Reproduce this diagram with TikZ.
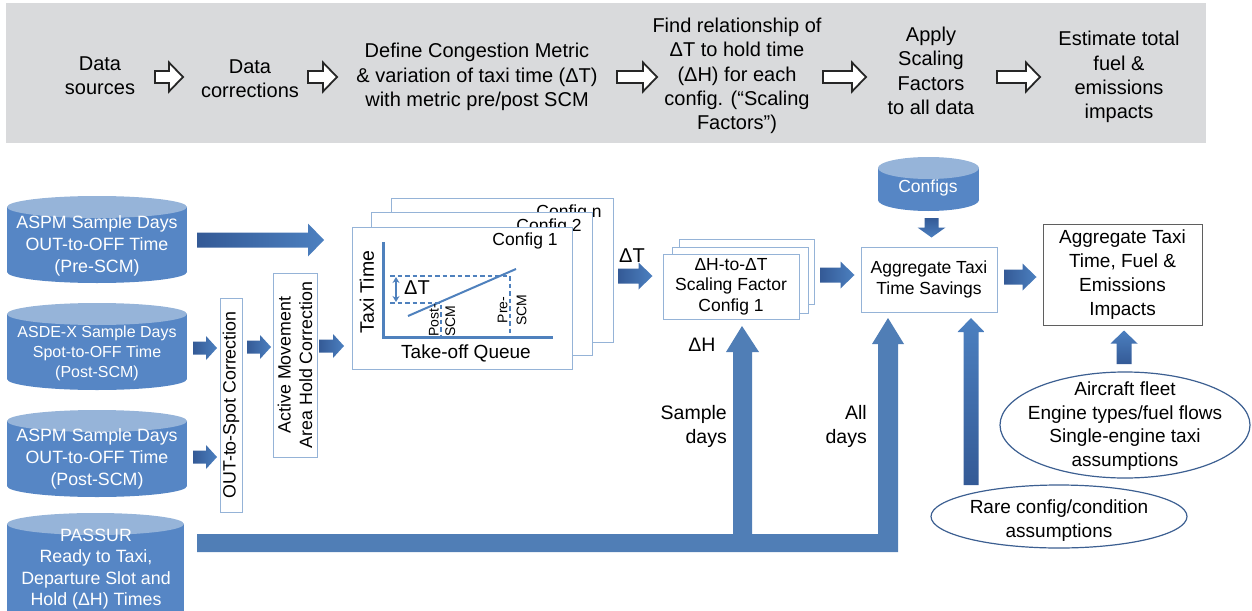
\documentclass[tikz,border=0pt]{standalone}
\usepackage{fontspec}
\setmainfont{Liberation Sans}
\usetikzlibrary{calc,shapes.geometric,arrows.meta}

\definecolor{bannergray}{RGB}{217,218,220}
\definecolor{dbbody}{RGB}{86,134,197}
\definecolor{dbtop}{RGB}{150,180,217}
\definecolor{flowdark}{RGB}{52,90,150}
\definecolor{flowlight}{RGB}{76,128,192}
\definecolor{pipe}{RGB}{80,126,182}
\definecolor{boxedge}{RGB}{149,179,215}
\definecolor{chartblue}{RGB}{79,129,189}
\definecolor{ovaledge}{RGB}{60,95,145}
\definecolor{finedge}{RGB}{95,95,95}

\newcommand\fs[2]{\fontsize{#1}{#2}\selectfont}

% database cylinder: name, left x, right x, top y, bottom y, cap radius
\newcommand\dbcyl[6]{%
  \fill[dbbody] (#2,#4+#6) rectangle (#3,#5-#6);
  \fill[dbbody] ({(#2+#3)/2},#5-#6) ellipse [x radius={(#3-#2)/2*1pt}, y radius=#6pt];
  \fill[dbtop] ({(#2+#3)/2},#4+#6) ellipse [x radius={(#3-#2)/2*1pt}, y radius=#6pt];
  \coordinate (#1) at ({(#2+#3)/2},{(#4+#5)/2});}

% shaded block arrows: from, to, shaft half-width, head half-width, head length
\newcommand\rarrow[5]{%
  \path[left color=flowdark,right color=flowlight] let \p1=#1, \p2=#2 in
    (\x1,\y1+#3) -- (\x2-#5,\y1+#3) -- (\x2-#5,\y1+#4) -- (\x2,\y1)
    -- (\x2-#5,\y1-#4) -- (\x2-#5,\y1-#3) -- (\x1,\y1-#3) -- cycle;}
\newcommand\uarrow[5]{%
  \path[bottom color=flowdark,top color=flowlight] let \p1=#1, \p2=#2 in
    (\x1-#3,\y1) -- (\x1-#3,\y2-#5) -- (\x1-#4,\y2-#5) -- (\x1,\y2)
    -- (\x1+#4,\y2-#5) -- (\x1+#3,\y2-#5) -- (\x1+#3,\y1) -- cycle;}
\newcommand\darrow[5]{%
  \path[top color=flowdark,bottom color=flowlight] let \p1=#1, \p2=#2 in
    (\x1-#3,\y1) -- (\x1-#3,\y2+#5) -- (\x1-#4,\y2+#5) -- (\x1,\y2)
    -- (\x1+#4,\y2+#5) -- (\x1+#3,\y2+#5) -- (\x1+#3,\y1) -- cycle;}
% hollow process arrow of the banner
\newcommand\harrow[2]{%
  \draw[fill=white, draw=black!85, line width=1.8pt, line join=miter] let \p1=#1, \p2=#2 in
    (\x1,\y1+6pt) -- (\x2-14pt,\y1+6pt) -- (\x2-14pt,\y1+14.5pt) -- (\x2,\y1)
    -- (\x2-14pt,\y1-14.5pt) -- (\x2-14pt,\y1-6pt) -- (\x1,\y1-6pt) -- cycle;}

\tikzset{
  banner/.style={align=center, font=\fs{20}{24.3}, inner sep=0pt},
  dbtext/.style={align=center, text=white, inner sep=0pt},
  card/.style={draw=boxedge, fill=white, line width=1pt},
  corr/.style={draw=boxedge, fill=white, line width=1pt, rotate=90, align=center,
    font=\fs{17.8}{21.5}, inner sep=0pt},
  oval/.style={draw=ovaledge, line width=1.2pt, fill=white},
  ovaltext/.style={align=center, inner sep=0pt, font=\fs{19}{23.5}},
  lbl/.style={font=\fs{19.5}{24}, inner sep=0pt},
}

\begin{document}
\begin{tikzpicture}[x=1pt,y=-1pt]
\useasboundingbox (0,0) rectangle (1252,610);
\clip (0,0) rectangle (1252,610);

% ---- process banner ----
\fill[bannergray] (6,3) rectangle (1206,143);
\node[banner] (s1) at (100,76) {Data\\sources};
\node[banner] (s2) at (250,79) {Data\\corrections};
\node[banner] (s3) at (477,77) {Define Congestion Metric\\\& variation of taxi time (ΔT)\\with metric pre/post SCM};
\node[banner] (s4) at (737,76) {Find relationship of\\ΔT to hold time\\(ΔH) for each\\config. (“Scaling\\Factors”)};
\node[banner] (s5) at (931,71) {Apply\\Scaling\\Factors\\to all data};
\node[banner] (s6) at (1119,77) {Estimate total\\fuel \&\\emissions\\impacts};
\coordinate (h1a) at (155,77); \coordinate (h1b) at (183,77);
\coordinate (h2a) at (308,77); \coordinate (h2b) at (337,77);
\coordinate (h3a) at (617,77); \coordinate (h3b) at (657,77);
\coordinate (h4a) at (823,77); \coordinate (h4b) at (866,77);
\coordinate (h5a) at (997,77); \coordinate (h5b) at (1040,77);
\harrow{(h1a)}{(h1b)}
\harrow{(h2a)}{(h2b)}
\harrow{(h3a)}{(h3b)}
\harrow{(h4a)}{(h4b)}
\harrow{(h5a)}{(h5b)}

% ---- data sources ----
\dbcyl{db1}{7}{187}{196}{283}{11}
\node[dbtext, font=\fs{17.8}{21.8}] (db1t) at (97,246) {ASPM Sample Days\\OUT-to-OFF Time\\(Pre-SCM)};
\dbcyl{db2}{7}{187}{303}{390}{11}
\node[dbtext, font=\fs{16}{20}] (db2t) at (97,353) {ASDE-X Sample Days\\Spot-to-OFF Time\\(Post-SCM)};
\dbcyl{db3}{7}{187}{410}{497}{11}
\node[dbtext, font=\fs{17.8}{21.8}] (db3t) at (97,459) {ASPM Sample Days\\OUT-to-OFF Time\\(Post-SCM)};
\dbcyl{db4}{7}{184}{513}{640}{11}
\node[dbtext, font=\fs{17.8}{21.3}] (db4t) at (96,569) {PASSUR\\Ready to Taxi,\\Departure Slot and\\Hold (ΔH) Times};
\dbcyl{dbc}{878}{979}{157}{211}{11}
\node[dbtext, font=\fs{17.5}{21}] (dbct) at (928,188) {Configs};

% ---- corrections ----
\node[corr, minimum width=214, minimum height=22] (oos) at (231,405) {OUT-to-Spot Correction};
\node[corr, minimum width=184, minimum height=44] (amh) at (295,365) {Active Movement\\Area Hold Correction};
% arrow end points on the two correction boxes
\coordinate (oosW1) at (217,348); \coordinate (oosW2) at (217,457);
\coordinate (oosE) at (247,347);
\coordinate (amhW) at (271,347); \coordinate (amhE) at (319,346);

% ---- per-configuration charts ----
\draw[card] (391,198) rectangle (613,342);
\node[font=\fs{17.5}{20}, anchor=base, inner sep=0pt] (cfgn) at (569,217) {Config n};
\draw[card] (371,212) rectangle (592,355);
\node[font=\fs{17.5}{20}, anchor=base, inner sep=0pt] (cfg2) at (549,231) {Config 2};
\draw[card] (352,227) rectangle (572,369);
\node[font=\fs{17.5}{20}, anchor=base, inner sep=0pt] (cfg1) at (525,245) {Config 1};
\coordinate (cfgW) at (344,346);

\draw[chartblue, line width=3pt] (383,242) -- (383,337) -- (553,337);
\draw[chartblue, line width=2pt] (408,316) -- (516,269);
\draw[chartblue, line width=1.6pt, dash pattern=on 4.5pt off 3pt] (390,276) -- (510,276) -- (510,336);
\draw[chartblue, line width=1.6pt, dash pattern=on 4.5pt off 3pt] (390,303) -- (441,303) -- (441,336);
\draw[chartblue, line width=1.6pt, {Stealth[length=6pt,width=7pt]}-{Stealth[length=6pt,width=7pt]}] (396,277) -- (396,302);
\node[font=\fs{20}{24}, inner sep=0pt] (dT) at (417,288) {ΔT};
\node[font=\fs{19.5}{23}, rotate=90, inner sep=0pt] (yax) at (367,292) {Taxi Time};
\node[font=\fs{19}{23}, inner sep=0pt] (xax) at (466,353) {Take-off Queue};
\node[font=\fs{14}{16.5}, rotate=90, align=left, anchor=west, inner sep=0pt] (post) at (442,337) {Post-\\SCM};
\node[font=\fs{14}{19}, rotate=90, align=center, inner sep=0pt] (pre) at (512,310) {Pre-\\SCM};

% ---- scaling factors ----
\draw[card] (679,239) rectangle (814,304);
\draw[card] (672,247) rectangle (808,313);
\node[card, minimum width=136, minimum height=65, align=center, font=\fs{17.5}{20.5}, inner sep=0pt] (sf) at (731,286.5) {ΔH-to-ΔT\\Scaling Factor\\Config 1};

% ---- aggregation ----
\node[card, minimum width=136, minimum height=65, align=center, font=\fs{17.5}{20.5}, inner sep=0pt] (agg) at (929,279.5) {Aggregate Taxi\\Time Savings};
\node[draw=finedge, line width=1pt, fill=white, minimum width=159, minimum height=101, align=center, font=\fs{19}{24}, inner sep=0pt] (fin) at (1122.5,274.5) {Aggregate Taxi\\Time, Fuel \&\\Emissions\\Impacts};

% ---- assumption ovals ----
\coordinate (fleetC) at (1125,425);
\coordinate (rareC) at (1059,516.5);
\draw[oval] (fleetC) ellipse [x radius=125pt, y radius=53pt];
\draw[oval] (rareC) ellipse [x radius=128pt, y radius=31.5pt];
\node[ovaltext] (fleet) at ($(fleetC)+(0,1)$) {Aircraft fleet\\Engine types/fuel flows\\Single-engine taxi\\assumptions};
\node[ovaltext] (rare) at ($(rareC)+(0,4)$) {Rare config/condition\\assumptions};
\coordinate (fleetN) at (1124,372);
\coordinate (rareN) at (971,485);

% ---- flow arrows ----
\rarrow{($(db1 |- 0,240)+(100,0)$)}{(324,240)}{7.5pt}{16.5pt}{16pt}
\rarrow{($(db2 |- 0,348)+(96,0)$)}{(oosW1)}{6.5pt}{12pt}{11pt}
\rarrow{($(db3 |- 0,457)+(96,0)$)}{(oosW2)}{6.5pt}{12pt}{11pt}
\rarrow{(oosE)}{(amhW)}{6.5pt}{12pt}{11pt}
\rarrow{(amhE)}{(cfgW)}{6.5pt}{12pt}{11pt}
\rarrow{(618,276)}{($(sf.west |- 0,276)+(-10,0)$)}{7.5pt}{13.5pt}{14pt}
\rarrow{(820,275)}{($(agg.west |- 0,275)+(-6,0)$)}{7.5pt}{13.5pt}{14pt}
\rarrow{(1004,277)}{($(fin.west |- 0,277)+(-6,0)$)}{7.5pt}{13.5pt}{14pt}
\darrow{($(dbc)+(3,34)$)}{($(agg.north)+(2,-9)$)}{7pt}{14pt}{10pt}
\uarrow{($(fleetN)+(0,-8)$)}{($(fin.south)+(1.5,5)$)}{7.5pt}{13.5pt}{13pt}
\uarrow{(rareN)}{($(agg.south |- 0,318)+(42,0)$)}{7.5pt}{13.5pt}{14pt}
\node[font=\fs{20}{24}, inner sep=0pt] (dTout) at (632,256) {ΔT};

% ---- PASSUR hold-time pipe feeding both stages ----
\coordinate (pipeS) at (197,534);
\coordinate (tipSample) at (742,326);
\coordinate (tipAll) at (888,318);
\fill[pipe] (pipeS) -- (733,534) -- (733,352) -- (726,352) -- (tipSample) -- (759,352)
  -- (752,352) -- (752,534) -- (878,534) -- (878,344) -- (872,344) -- (tipAll)
  -- (904,344) -- (898,344) -- (898,552) -- (197,552) -- cycle;
\node[lbl] (dH) at (702,345) {ΔH};
\node[lbl, align=right, anchor=north east] (smp) at (727,405) {Sample\\days};
\node[lbl, align=right, anchor=north east] (all) at (867,405) {All\\days};
\end{tikzpicture}
\end{document}
